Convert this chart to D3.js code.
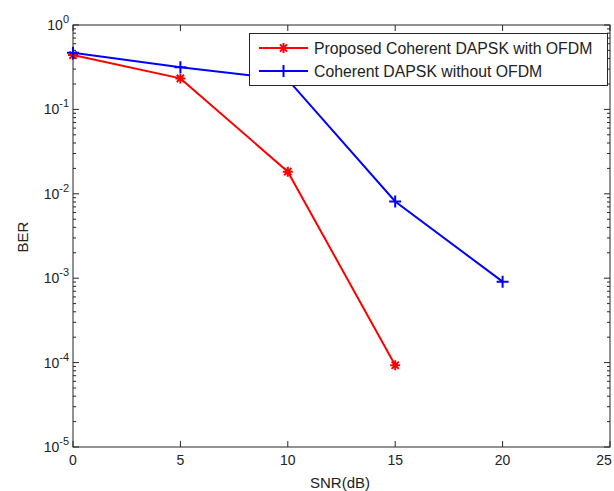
<!DOCTYPE html>
<html lang="en">
<head>
    <meta charset="UTF-8" />
    <title>BER vs SNR</title>
    <script src="https://d3js.org/d3.v7.min.js"></script>
    <style>
        body { margin: 0; background: #fff; }
        text { font-family: "Liberation Sans", Arial, sans-serif; fill: #222; }
    </style>
</head>
<body>
    <div class="canvas"></div>

    <script>
        /* data */
        const snr = [0, 5, 10, 15, 20];
        const berOfdm = [0.44, 0.233, 0.0183, 0.000093];
        const berNoOfdm = [0.47, 0.315, 0.225, 0.0081, 0.00091];
        const xTicks = [0, 5, 10, 15, 20, 25];
        const yExps = [0, -1, -2, -3, -4, -5];
        const seriesNames = ["Proposed Coherent DAPSK with OFDM", "Coherent DAPSK without OFDM"];

        const W = 614, H = 491;
        const margin = { top: 25, right: 4, bottom: 44, left: 73 };
        const iw = W - margin.left - margin.right;
        const ih = H - margin.top - margin.bottom;

        const svg = d3.select(".canvas").append("svg")
            .attr("width", W).attr("height", H);

        const g = svg.append("g")
            .attr("transform", `translate(${margin.left},${margin.top})`);

        const x = d3.scaleLinear().domain([0, 25]).range([0, iw]);
        const y = d3.scaleLog().domain([1e-5, 1]).range([ih, 0]);

        const axisColor = "#262626";

        // minor ticks on log axis
        const minor = [];
        for (let e = -5; e < 0; e++) {
            for (let k = 2; k <= 9; k++) minor.push(k * Math.pow(10, e));
        }

        // box
        g.append("rect").attr("width", iw).attr("height", ih)
            .attr("fill", "none").attr("stroke", axisColor).attr("stroke-width", 1);

        // x ticks, bottom + top
        xTicks.forEach(t => {
            g.append("line").attr("x1", x(t)).attr("x2", x(t)).attr("y1", ih).attr("y2", ih - 6)
                .attr("stroke", axisColor);
            g.append("line").attr("x1", x(t)).attr("x2", x(t)).attr("y1", 0).attr("y2", 6)
                .attr("stroke", axisColor);
            // last label would run off the page, keep it inside
            const tx = Math.min(x(t), W - margin.left - 10);
            g.append("text").attr("x", tx).attr("y", ih + 18)
                .attr("text-anchor", "middle").attr("font-size", 14).text(t);
        });

        // y ticks, left + right
        yExps.forEach(e => {
            const v = Math.pow(10, e);
            g.append("line").attr("x1", 0).attr("x2", 6).attr("y1", y(v)).attr("y2", y(v)).attr("stroke", axisColor);
            g.append("line").attr("x1", iw).attr("x2", iw - 6).attr("y1", y(v)).attr("y2", y(v)).attr("stroke", axisColor);
            const lbl = g.append("text").attr("x", -4).attr("y", y(v) + 5)
                .attr("text-anchor", "end").attr("font-size", 14);
            lbl.append("tspan").text("10");
            lbl.append("tspan").attr("dy", -7).attr("font-size", 11).text(e);
        });
        minor.forEach(v => {
            g.append("line").attr("x1", 0).attr("x2", 3).attr("y1", y(v)).attr("y2", y(v)).attr("stroke", axisColor);
            g.append("line").attr("x1", iw).attr("x2", iw - 3).attr("y1", y(v)).attr("y2", y(v)).attr("stroke", axisColor);
        });

        // axis labels
        svg.append("text").attr("x", 340).attr("y", 488)
            .attr("text-anchor", "middle").attr("font-size", 15).text("SNR(dB)");
        svg.append("text").attr("transform", "translate(28,237) rotate(-90)")
            .attr("text-anchor", "middle").attr("font-size", 15).text("BER");

        // markers
        function star(sel, cx, cy, color) {
            const r = 5, d = r * 0.72;
            sel.append("path")
                .attr("d", `M${cx - r},${cy}H${cx + r}M${cx},${cy - r}V${cy + r}` +
                    `M${cx - d},${cy - d}L${cx + d},${cy + d}M${cx - d},${cy + d}L${cx + d},${cy - d}`)
                .attr("stroke", color).attr("stroke-width", 2).attr("fill", "none");
        }
        function plus(sel, cx, cy, color) {
            const r = 6;
            sel.append("path")
                .attr("d", `M${cx - r},${cy}H${cx + r}M${cx},${cy - r}V${cy + r}`)
                .attr("stroke", color).attr("stroke-width", 2).attr("fill", "none");
        }

        const line = d3.line().x(d => x(d[0])).y(d => y(d[1]));
        const series = [
            { vals: berOfdm, color: "#ff0000", marker: star },
            { vals: berNoOfdm, color: "#0000ff", marker: plus }
        ];
        series.forEach(s => {
            const pts = s.vals.map((v, i) => [snr[i], v]);
            g.append("path").datum(pts).attr("d", line)
                .attr("fill", "none").attr("stroke", s.color).attr("stroke-width", 2);
            pts.forEach(p => s.marker(g, x(p[0]), y(p[1]), s.color));
        });

        // legend
        const lg = svg.append("g");
        lg.append("rect").attr("x", 249.5).attr("y", 33.5).attr("width", 358).attr("height", 52)
            .attr("fill", "#fff").attr("stroke", axisColor);
        series.forEach((s, i) => {
            const ly = 48 + i * 23;
            lg.append("line").attr("x1", 259).attr("x2", 308).attr("y1", ly).attr("y2", ly)
                .attr("stroke", s.color).attr("stroke-width", 2);
            s.marker(lg, 283.5, ly, s.color);
            lg.append("text").attr("x", 314).attr("y", ly + 5.5).attr("font-size", 15.8).text(seriesNames[i]);
        });
    </script>
</body>
</html>
